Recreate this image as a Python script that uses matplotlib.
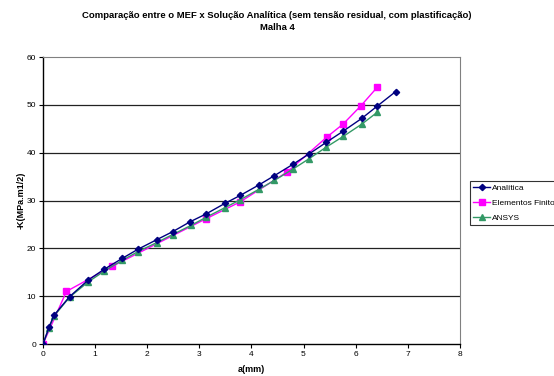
import matplotlib
matplotlib.use('Agg')
import matplotlib.pyplot as plt

plt.rcParams['font.family'] = ['Liberation Sans', 'DejaVu Sans']

# Analítica
a_analitica = [0.0, 0.115, 0.21, 0.51, 0.87, 1.17, 1.52, 1.82, 2.18, 2.49, 2.83,
               3.13, 3.49, 3.79, 4.15, 4.44, 4.80, 5.10, 5.44, 5.76, 6.12, 6.42, 6.77]
k_analitica = [0.0, 3.5, 6.0, 9.9, 13.4, 15.6, 17.9, 19.8, 21.8, 23.5, 25.6,
               27.2, 29.4, 31.1, 33.3, 35.2, 37.6, 39.7, 42.2, 44.5, 47.2, 49.8, 52.8]

# Elementos Finitos
a_mef = [0.0, 0.45, 1.33, 3.13, 3.78, 4.69, 5.45, 5.76, 6.10, 6.42]
k_mef = [0.0, 11.0, 16.25, 26.2, 29.7, 36.0, 43.3, 46.0, 49.8, 53.75]

# ANSYS
a_ansys = [0.0, 0.115, 0.21, 0.51, 0.87, 1.17, 1.52, 1.82, 2.18, 2.49, 2.84,
           3.13, 3.49, 3.79, 4.15, 4.44, 4.80, 5.10, 5.44, 5.76, 6.12, 6.42]
k_ansys = [0.0, 3.3, 5.8, 9.8, 13.0, 15.2, 17.5, 19.3, 21.2, 22.9, 24.8,
           26.5, 28.5, 30.2, 32.4, 34.2, 36.6, 38.7, 41.2, 43.4, 46.0, 48.5]

x_ticks = list(range(0, 9))
y_ticks = list(range(0, 61, 10))

fig = plt.figure(figsize=(5.54, 3.76), dpi=100)
ax = fig.add_axes([0.0776, 0.0851, 0.7524, 0.763])

ax.plot(a_analitica, k_analitica, color='#000080', marker='D', markersize=3.2,
        linewidth=1.0, label='Analítica', zorder=4)
ax.plot(a_mef, k_mef, color='#FF00FF', marker='s', markersize=4.5,
        linewidth=1.0, label='Elementos Finitos', zorder=3)
ax.plot(a_ansys, k_ansys, color='#339966', marker='^', markersize=4.2,
        linewidth=1.0, label='ANSYS', zorder=3)

ax.set_xlim(0, 8)
ax.set_ylim(0, 60)
ax.set_xticks(x_ticks)
ax.set_yticks(y_ticks)
ax.tick_params(labelsize=6, length=3, width=0.8, pad=2)
for y in y_ticks[1:-1]:
    ax.axhline(y, color='#222222', linewidth=0.9, zorder=1)
ax.spines['top'].set_color('#808080')
ax.spines['right'].set_color('#808080')
ax.spines['left'].set_linewidth(1.0)
ax.spines['bottom'].set_linewidth(1.0)

ax.set_xlabel('a(mm)', fontsize=6.5, fontweight='bold', labelpad=5)
ax.set_ylabel('-K(MPa.m1/2)', fontsize=6.5, fontweight='bold', labelpad=1)

fig.text(0.5, 0.960, 'Comparação entre o MEF x Solução Analítica (sem tensão residual, com plastificação)',
         ha='center', va='center', fontsize=6.8, fontweight='bold')
fig.text(0.5, 0.926, 'Malha 4', ha='center', va='center', fontsize=6.8, fontweight='bold')

leg = fig.legend(loc='upper left', bbox_to_anchor=(0.849, 0.519), fontsize=6,
                 frameon=True, fancybox=False, edgecolor='black', borderpad=0.35,
                 handlelength=2.0, handletextpad=0.3, labelspacing=0.9,
                 borderaxespad=0)
leg.get_frame().set_linewidth(0.8)

fig.savefig('out.png', dpi=100)
